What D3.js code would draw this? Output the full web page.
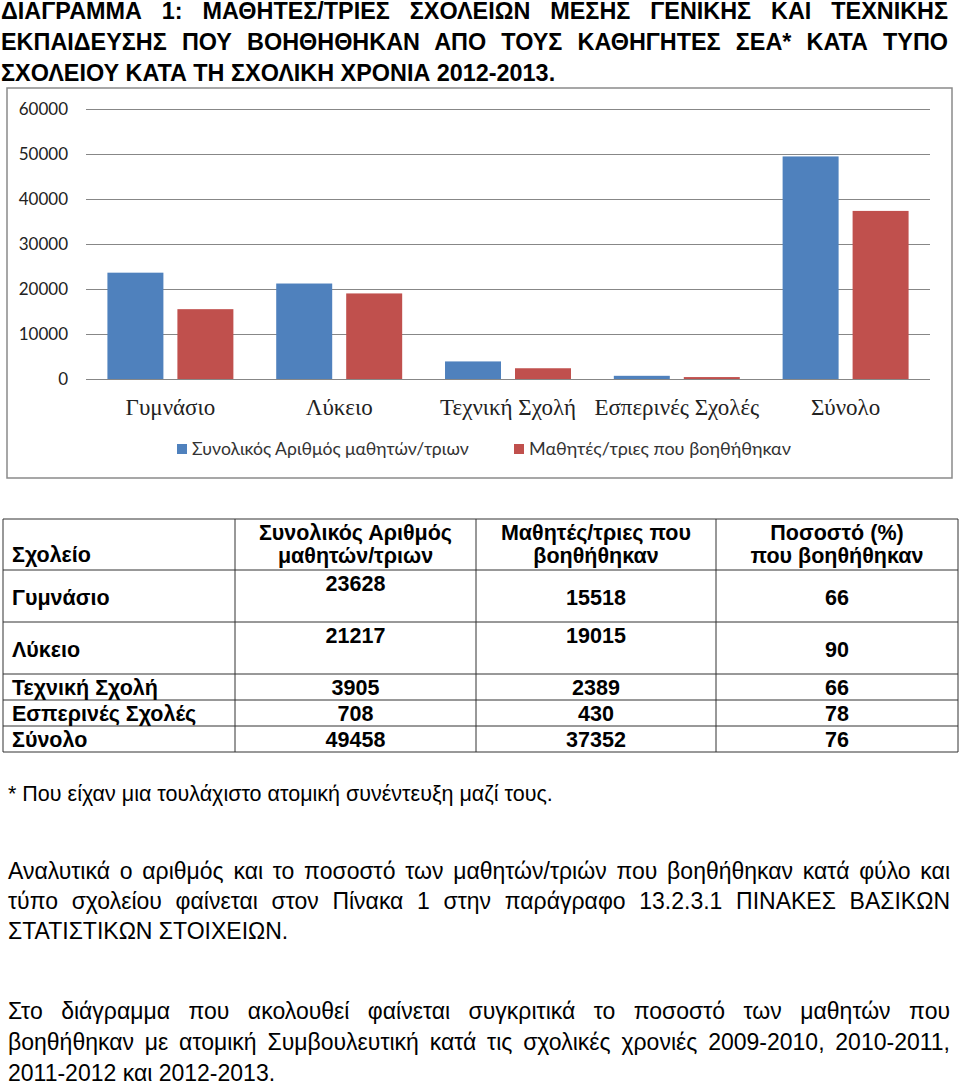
<!DOCTYPE html>
<html>
<head>
<meta charset="utf-8">
<script src="https://cdn.jsdelivr.net/npm/d3@7"></script>
<style>
  html, body { margin: 0; padding: 0; background: #fff; }
  body { width: 960px; height: 1083px; position: relative; overflow: hidden; font-family: "Liberation Sans", Arial, sans-serif; color: #000; }
  .line { position: absolute; white-space: nowrap; }
  .just { text-align: justify; text-align-last: justify; white-space: normal; }
  svg { position: absolute; left: 0; top: 0; }
</style>
</head>
<body>
<svg id="chart" width="960" height="1083"></svg>
<div id="texts"></div>
<script>
// ---------- data ----------
const categories = ["Γυμνάσιο", "Λύκειο", "Τεχνική Σχολή", "Εσπερινές Σχολές", "Σύνολο"];
const totalStudents = [23628, 21217, 3905, 708, 49458];
const helpedStudents = [15518, 19015, 2389, 430, 37352];
const percentHelped = [66, 90, 66, 78, 76];
const seriesNames = ["Συνολικός Αριθμός μαθητών/τριων", "Μαθητές/τριες που βοηθήθηκαν"];
const yTicks = [0, 10000, 20000, 30000, 40000, 50000, 60000];
const tableHeaders = [["Σχολείο"], ["Συνολικός Αριθμός", "μαθητών/τριων"], ["Μαθητές/τριες που", "βοηθήθηκαν"], ["Ποσοστό (%)", "που βοηθήθηκαν"]];
const titleLines = [
  "ΔΙΑΓΡΑΜΜΑ 1: ΜΑΘΗΤΕΣ/ΤΡΙΕΣ ΣΧΟΛΕΙΩΝ ΜΕΣΗΣ ΓΕΝΙΚΗΣ ΚΑΙ ΤΕΧΝΙΚΗΣ",
  "ΕΚΠΑΙΔΕΥΣΗΣ ΠΟΥ ΒΟΗΘΗΘΗΚΑΝ ΑΠΟ ΤΟΥΣ ΚΑΘΗΓΗΤΕΣ ΣΕΑ* ΚΑΤΑ ΤΥΠΟ",
  "ΣΧΟΛΕΙΟΥ ΚΑΤΑ ΤΗ ΣΧΟΛΙΚΗ ΧΡΟΝΙΑ 2012-2013."
];
const footnote = "* Που είχαν μια τουλάχιστο ατομική συνέντευξη μαζί τους.";
const paragraph1 = [
  "Αναλυτικά ο αριθμός και το ποσοστό των μαθητών/τριών που βοηθήθηκαν κατά φύλο και",
  "τύπο σχολείου φαίνεται στον Πίνακα 1 στην παράγραφο 13.2.3.1 ΠΙΝΑΚΕΣ ΒΑΣΙΚΩΝ",
  "ΣΤΑΤΙΣΤΙΚΩΝ ΣΤΟΙΧΕΙΩΝ."
];
const paragraph2 = [
  "Στο διάγραμμα που ακολουθεί φαίνεται συγκριτικά το ποσοστό των μαθητών που",
  "βοηθήθηκαν με ατομική Συμβουλευτική κατά τις σχολικές χρονιές 2009-2010, 2010-2011,",
  "2011-2012 και 2012-2013."
];

// ---------- text blocks (HTML) ----------
const texts = d3.select("#texts");
function addLines(lines, opts) {
  lines.forEach((t, i) => {
    const full = i < lines.length - 1 || opts.lastFull;
    const d = texts.append("div")
      .attr("class", "line" + (full ? " just" : ""))
      .style("left", opts.left + "px")
      .style("top", (opts.top + i * opts.step) + "px")
      .style("font-size", opts.size + "px")
      .style("font-weight", opts.bold ? "bold" : "normal")
      .style("line-height", opts.size + "px")
      .text(t);
    if (full) d.style("width", opts.width + "px");
  });
}
addLines(titleLines, {left: 1, top: 0, step: 31, size: 23.4, bold: true, width: 947});
addLines([footnote], {left: 8, top: 784, step: 30, size: 21.5, bold: false, width: 940});
addLines(paragraph1, {left: 8, top: 860, step: 30, size: 23, bold: false, width: 942});
addLines(paragraph2, {left: 8, top: 1000, step: 31, size: 23, bold: false, width: 942});

// ---------- chart ----------
const svg = d3.select("#chart");
const colors = ["#4F81BD", "#C0504D"];
svg.append("rect").attr("x", 7).attr("y", 88).attr("width", 945).attr("height", 390)
  .attr("fill", "#fff").attr("stroke", "#8a8a8a").attr("stroke-width", 1.5);

const plot = {left: 86, right: 930, top: 109, bottom: 379};
const y = d3.scaleLinear().domain([0, 60000]).range([plot.bottom, plot.top]);
const x0 = d3.scaleBand().domain(categories).range([plot.left, plot.right]).padding(0);
const x1 = d3.scaleBand().domain([0, 1]).range([0, x0.bandwidth()]).paddingInner(0.2).paddingOuter(0.306);

const yAxis = d3.axisLeft(y).tickValues(yTicks).tickSize(-(plot.right - plot.left)).tickPadding(18).tickFormat(d3.format("d"));
const gy = svg.append("g").attr("transform", `translate(${plot.left},0)`).call(yAxis);
gy.select(".domain").remove();
gy.selectAll(".tick line").attr("stroke", "#878787").attr("stroke-width", 1);
gy.selectAll(".tick text").attr("font-family", "Lato, 'Liberation Sans', sans-serif").attr("font-size", 17).attr("fill", "#222");

const seriesData = [totalStudents, helpedStudents];
const groups = svg.append("g").selectAll("g").data(categories).join("g")
  .attr("transform", d => `translate(${x0(d)},0)`);
groups.selectAll("rect").data((d, i) => [0, 1].map(s => ({s, v: seriesData[s][i]}))).join("rect")
  .attr("x", d => x1(d.s)).attr("width", x1.bandwidth())
  .attr("y", d => y(d.v)).attr("height", d => y(0) - y(d.v))
  .attr("fill", d => colors[d.s]);

const xAxis = d3.axisBottom(x0).tickSize(0).tickPadding(0);
const gx = svg.append("g").attr("transform", `translate(0,${plot.bottom})`).call(xAxis);
gx.select(".domain").remove();
gx.selectAll(".tick text").attr("font-family", "'Liberation Serif', 'Times New Roman', serif")
  .attr("font-size", 23).attr("fill", "#222").attr("dy", 0).attr("y", 36);

// legend
const legendX = [177, 514];
const lg = svg.append("g").selectAll("g").data(seriesNames).join("g")
  .attr("transform", (d, i) => `translate(${legendX[i]},444)`);
lg.append("rect").attr("width", 10).attr("height", 10).attr("fill", (d, i) => colors[i]);
lg.append("text").attr("x", 15).attr("y", 11).attr("font-family", "Lato, 'Liberation Sans', sans-serif")
  .attr("font-size", (d, i) => i === 0 ? 17.6 : 18).attr("fill", "#333").text(d => d);

// ---------- table ----------
const colX = [3, 235, 476, 716, 958];
const rowY = [519, 570, 622, 674, 700, 726, 752];
const tg = svg.append("g").attr("font-family", "'Liberation Sans', Arial, sans-serif").attr("font-weight", "bold").attr("font-size", 21.5);
// borders
tg.selectAll("line.h").data(rowY).join("line").attr("class", "h")
  .attr("x1", colX[0]).attr("x2", colX[4]).attr("y1", d => d).attr("y2", d => d)
  .attr("stroke", "#333").attr("stroke-width", 1);
tg.selectAll("line.v").data(colX).join("line").attr("class", "v")
  .attr("x1", d => d).attr("x2", d => d).attr("y1", rowY[0]).attr("y2", rowY[6])
  .attr("stroke", "#333").attr("stroke-width", 1);
const colCenter = i => (colX[i] + colX[i + 1]) / 2;
// header
tableHeaders.forEach((lines, c) => {
  if (c === 0) {
    tg.append("text").attr("x", 12).attr("y", 562).text(lines[0]);
  } else {
    lines.forEach((t, k) => tg.append("text").attr("x", colCenter(c)).attr("y", 540 + k * 23)
      .attr("text-anchor", "middle").text(t));
  }
});
// body rows
const topAligned = [[1], [1, 2], [], [], []];
categories.forEach((cat, r) => {
  const top = rowY[r + 1], bot = rowY[r + 2];
  const tall = bot - top > 30;
  const baseMid = tall ? bot - 17.5 : bot - 5;
  const baseTop = top + 21;
  const vals = [totalStudents[r], helpedStudents[r], percentHelped[r]];
  tg.append("text").attr("x", 12).attr("y", baseMid).text(cat);
  vals.forEach((v, c) => {
    tg.append("text").attr("x", colCenter(c + 1)).attr("text-anchor", "middle")
      .attr("y", topAligned[r].includes(c + 1) ? baseTop : baseMid).text(v);
  });
});
</script>
</body>
</html>
